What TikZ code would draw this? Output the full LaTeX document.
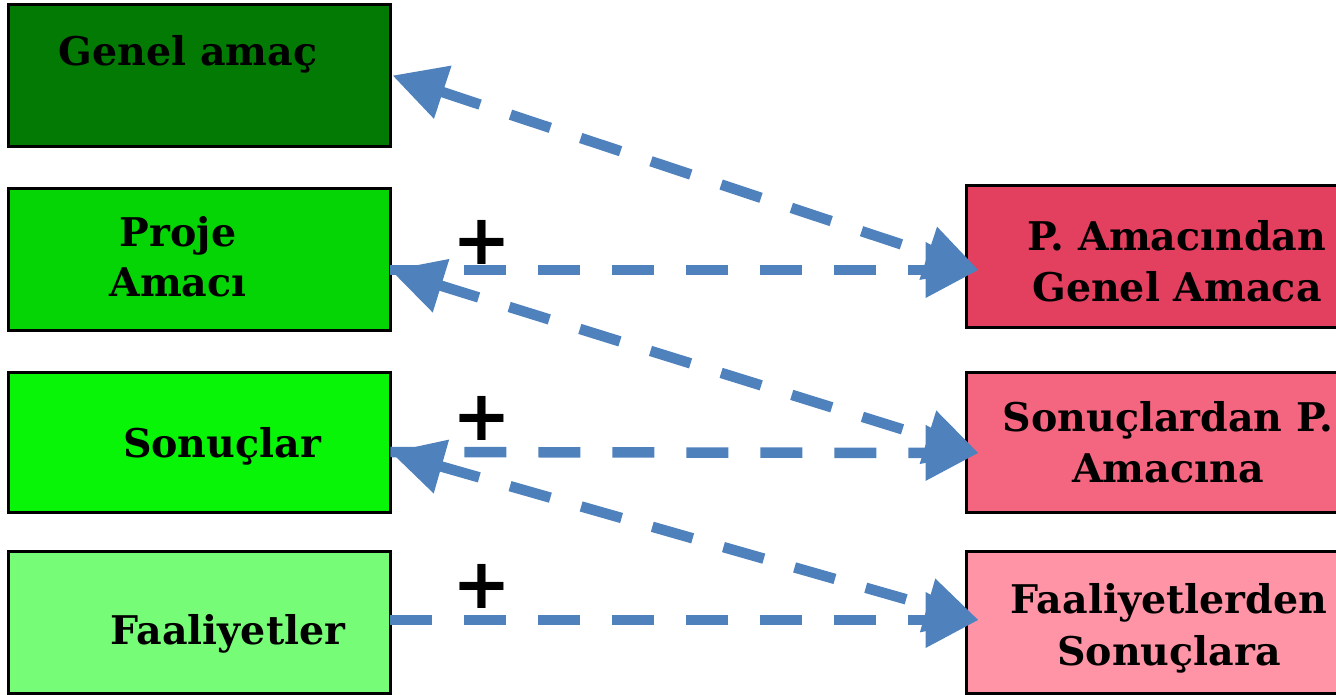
\documentclass[tikz,border=0pt]{standalone}
\usepackage{fontspec}
\setmainfont{DejaVu Serif}
\newfontfamily\masfont{DejaVu Sans}
\usetikzlibrary{arrows.meta}

\definecolor{verdeA}{HTML}{037A03}
\definecolor{verdeB}{HTML}{05D405}
\definecolor{verdeC}{HTML}{08F508}
\definecolor{verdeD}{HTML}{77FC77}
\definecolor{rojoA}{HTML}{E34060}
\definecolor{rojoB}{HTML}{F46680}
\definecolor{rojoC}{HTML}{FF94A6}
\definecolor{azul}{HTML}{4F81BD}

\tikzset{
  caja/.style={draw=black, line width=1.7pt, minimum width=7.66cm, minimum height=2.86cm, inner sep=0pt},
  texto/.style={font=\fontsize{22.5}{28.5}\selectfont\bfseries, align=center, anchor=base, inner sep=0pt},
  flecha/.style={draw=azul, line width=0.21cm, dash pattern=on 0.84cm off 0.64cm,
    -{Triangle[length=1.06cm,width=1.06cm]}},
  doble/.style={flecha, {Triangle[length=1.06cm,width=1.06cm]}-{Triangle[length=1.06cm,width=1.06cm]}},
  mas/.style={font=\masfont\fontsize{40}{40}\selectfont\bfseries, inner sep=0pt}
}

\begin{document}
\begin{tikzpicture}[x=0.02cm, y=-0.02cm]
\useasboundingbox (0,0) rectangle (1336,695);

% Cajas de la izquierda
\node[caja, fill=verdeA] (genel) at (199.5,75.5) {};
\node[caja, fill=verdeB] (proje) at (199.5,259.5) {};
\node[caja, fill=verdeC, minimum height=2.82cm] (sonuc) at (199.5,442.5) {};
\node[caja, fill=verdeD] (faal) at (199.5,622.5) {};

% Cajas de la derecha (se cortan en el borde)
\node[caja, fill=rojoA, minimum width=7.58cm] (dGenel) at (1155.5,256.5) {};
\node[caja, fill=rojoB, minimum width=7.58cm, minimum height=2.82cm] (dProje) at (1155.5,442.5) {};
\node[caja, fill=rojoC, minimum width=7.58cm] (dSonuc) at (1155.5,622.5) {};

% Textos (base = ultima linea)
\node[texto] (tGenel) at (188,66) {Genel amaç};
\node[texto] (tProje) at (178,297) {Proje\\Amacı};
\node[texto] (tSonuc) at (222,458) {Sonuçlar};
\node[texto] (tFaal) at (228,645) {Faaliyetler};
\node[texto, font=\fontsize{22.5}{29.5}\selectfont\bfseries] (tdGenel) at (1177,302) {P. Amacından\\Genel Amaca};
\node[texto, font=\fontsize{22.5}{29.5}\selectfont\bfseries] (tdProje) at (1168,483) {Sonuçlardan P.\\Amacına};
\node[texto, font=\fontsize{22.5}{29.5}\selectfont\bfseries] (tdSonuc) at (1169,665) {Faaliyetlerden\\Sonuçlara};

% Signos +
\node[mas] (mas1) at (482,242) {+};
\node[mas] (mas2) at (482,418) {+};
\node[mas] (mas3) at (482,586) {+};

% Flechas
\draw[doble] (genel.east) -- ([shift={(14,13.5)}]dGenel.west);
\draw[flecha] ([shift={(-2,10.5)}]proje.east) -- ([shift={(14,13.5)}]dGenel.west);
\draw[doble] ([shift={(-2,10.5)}]proje.east) -- ([shift={(14,10.5)}]dProje.west);
\draw[flecha] ([shift={(-2,9.5)}]sonuc.east) -- ([shift={(14,10.5)}]dProje.west);
\draw[doble] ([shift={(-2,9.5)}]sonuc.east) -- ([shift={(14,-2.5)}]dSonuc.west);
\draw[flecha] ([shift={(-2,-2.5)}]faal.east) -- ([shift={(14,-2.5)}]dSonuc.west);
\end{tikzpicture}
\end{document}
